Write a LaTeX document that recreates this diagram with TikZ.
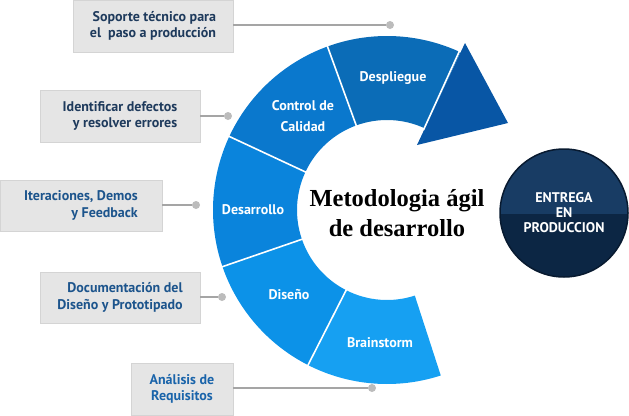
\documentclass[tikz,border=0pt]{standalone}
\usepackage{fontspec}
\setmainfont{Liberation Serif}
\newfontfamily\lab{PT Sans}
\definecolor{boxgray}{RGB}{229,229,229}
\definecolor{boxedge}{RGB}{212,212,212}
\definecolor{txtA}{RGB}{30,58,92}
\definecolor{txtB}{RGB}{28,84,140}
\definecolor{txtC}{RGB}{26,100,170}
\definecolor{linegray}{RGB}{165,165,165}
\definecolor{dotgray}{RGB}{188,188,188}
\definecolor{cBrain}{RGB}{22,160,242}
\definecolor{cDis}{RGB}{12,146,232}
\definecolor{cDes}{RGB}{10,132,220}
\definecolor{cCtl}{RGB}{10,120,205}
\definecolor{cDpl}{RGB}{11,108,183}
\definecolor{cArr}{RGB}{8,86,165}
\definecolor{navyDark}{RGB}{12,38,68}
\definecolor{navyLight}{RGB}{24,60,100}
\definecolor{navyEdge}{RGB}{8,26,48}
\newcommand\ringseg[3]{\fill[#3] (#1:90) arc[start angle=#1,end angle=#2,radius=90] -- (#2:174) arc[start angle=#2,end angle=#1,radius=174] -- cycle;}
\begin{document}
\begin{tikzpicture}[x=1pt,y=-1pt,
  lbox/.style={fill=boxgray, draw=boxedge, line width=0.8pt, minimum width=160pt, minimum height=52pt, inner sep=0pt, font=\lab\bfseries\fontsize{14}{16.5}\selectfont},
  dotn/.style={circle, fill=dotgray, minimum size=8pt, inner sep=0pt},
  conn/.style={draw=linegray, line width=1.3pt},
  seglab/.style={text=white, font=\lab\bfseries\fontsize{14}{21}\selectfont, align=center},
  sepline/.style={draw=white, line width=1.6pt}]
\useasboundingbox (0,0) rectangle (629,415);

% arrow head
\fill[cArr] (465,43) -- (508,123) -- (417,145) -- cycle;

% ring
\begin{scope}[x=1pt,y=1pt,shift={(387pt,-210pt)}]
  \ringseg{-72}{-117}{cBrain}
  \ringseg{-117}{-161}{cDis}
  \ringseg{155}{199}{cDes}
  \ringseg{110}{155}{cCtl}
  \ringseg{65}{110}{cDpl}
  \foreach \a in {-117,-161,155,110} {\draw[sepline] (\a:88) -- (\a:176);}
  \draw[sepline] (65.5:88) -- (65.5:182);
\end{scope}

% segment labels
\node[seglab] (lDpl) at (393,78) {Despliegue};
\node[seglab] (lCtl) at (303,116) {Control de\\Calidad};
\node[seglab] (lDes) at (253,210) {Desarrollo};
\node[seglab] (lDis) at (289,295) {Diseño};
\node[seglab] (lBra) at (380,343) {Brainstorm};

% title
\node[font=\bfseries\fontsize{24.5}{30}\selectfont, align=center] (title) at (397,213) {Metodologia ágil\\de desarrollo};

% boxes
\node[lbox, align=right, text=txtA] (b1) at (153,26) {Soporte técnico para\\el~ paso a producción};
\node[lbox, align=right, text=txtA] (b2) at (120,116) {Identificar defectos\\y resolver errores};
\node[lbox, align=right, text=txtB, minimum width=162pt, minimum height=51pt] (b3) at (81,205.5) {Iteraciones, Demos\\y Feedback};
\node[lbox, align=right, text=txtB, minimum height=51pt] (b4) at (120,297.5) {Documentación del\\Diseño y Prototipado};
\node[lbox, align=center, text=txtC, minimum width=102pt] (b5) at (182,389) {Análisis de\\Requisitos};

% dots and connectors
\node[dotn] (d1) at (390,25) {};
\node[dotn] (d2) at (228,116) {};
\node[dotn] (d3) at (196,205) {};
\node[dotn] (d4) at (222,297) {};
\node[dotn] (d5) at (372,388) {};
\draw[conn] (b1.east |- d1) -- (d1);
\draw[conn] (b2.east |- d2) -- (d2);
\draw[conn] (b3.east |- d3) -- (d3);
\draw[conn] (b4.east |- d4) -- (d4);
\draw[conn] (b5.east |- d5) -- (d5);

% delivery circle
\node[circle, minimum size=128pt, inner sep=0pt, fill=navyDark, draw=navyEdge, line width=1.5pt,
  path picture={\fill[navyLight] (path picture bounding box.north west) rectangle ([yshift=-1pt]path picture bounding box.east);}] (ent) at (564,213) {};
\node[text=white, font=\lab\bfseries\fontsize{14}{15}\selectfont, align=center] (entt) at (ent.center) {ENTREGA\\EN\\PRODUCCION};
\end{tikzpicture}
\end{document}
